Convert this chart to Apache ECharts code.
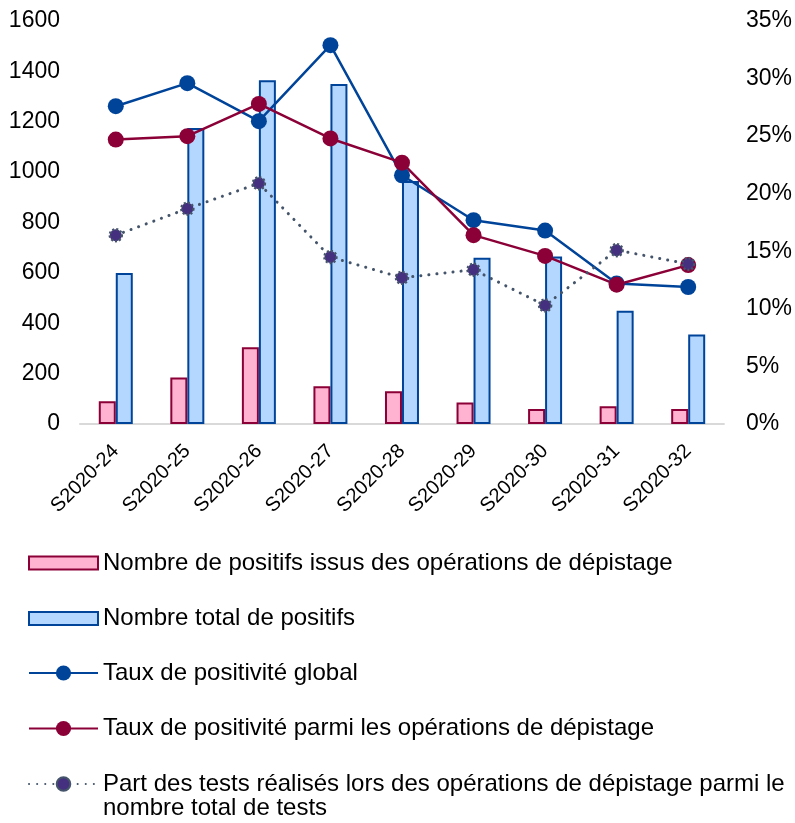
<!DOCTYPE html>
<html>
<head>
<meta charset="utf-8">
<script src="https://cdn.jsdelivr.net/npm/echarts@6/dist/echarts.min.js"></script>
<style>
  html, body { margin: 0; padding: 0; background: #fff; }
  #chart { width: 795px; height: 823px; }
</style>
</head>
<body>
<div id="chart"></div>
<script>
// semaines
const weeks = ["S2020-24", "S2020-25", "S2020-26", "S2020-27", "S2020-28", "S2020-29", "S2020-30", "S2020-31", "S2020-32"];
// nombre de positifs (axe gauche)
const positifsDepistage = [90, 185, 305, 150, 130, 85, 60, 70, 60];
const positifsTotal = [600, 1175, 1365, 1350, 965, 660, 665, 450, 355];
// taux en % (axe droit)
const tauxGlobal = [27.6, 29.6, 26.3, 32.9, 21.6, 17.7, 16.8, 12.2, 11.9];
const tauxDepistage = [24.7, 25.0, 27.8, 24.8, 22.7, 16.4, 14.6, 12.1, 13.8];
const partTests = [16.4, 18.7, 20.9, 14.5, 12.7, 13.4, 10.3, 15.1, 13.9];

const names = [
  "Nombre de positifs issus des opérations de dépistage",
  "Nombre total de positifs",
  "Taux de positivité global",
  "Taux de positivité parmi les opérations de dépistage",
  "Part des tests réalisés lors des opérations de dépistage parmi le\nnombre total de tests"
];

const font = "'Liberation Sans', Arial, sans-serif";
const legendText = { fontSize: 24, color: "#000", lineHeight: 26, fontFamily: font };
const chart = echarts.init(document.getElementById("chart"));

chart.setOption({
  animation: false,
  textStyle: { fontFamily: font },
  grid: { left: 80, right: 70, top: 21, bottom: 399 },
  legend: [
    {
      // barres
      orient: "vertical",
      left: 23,
      top: 545,
      itemWidth: 69,
      itemHeight: 13,
      itemGap: 29.5,
      textStyle: legendText,
      data: [
        { name: names[0], icon: "rect" },
        { name: names[1], icon: "rect" }
      ]
    },
    {
      // courbes
      orient: "vertical",
      left: 23,
      top: 655,
      itemWidth: 69,
      itemHeight: 19,
      itemGap: 29.5,
      textStyle: legendText,
      data: [names[2], names[3]]
    },
    {
      // pointillés, libellé sur deux lignes aligné sur la première
      orient: "vertical",
      left: 23,
      top: 743,
      itemWidth: 69,
      itemHeight: 17,
      textStyle: Object.assign({}, legendText, { lineHeight: 24 }),
      formatter: n => "\n" + n,
      data: [names[4]]
    }
  ],
  xAxis: {
    type: "category",
    data: weeks,
    axisLine: { lineStyle: { color: "#d9d9d9", width: 2 } },
    axisTick: { show: false },
    axisLabel: { rotate: 45, fontSize: 20, color: "#000", margin: 24, interval: 0 }
  },
  yAxis: [
    {
      type: "value",
      min: 0,
      max: 1600,
      interval: 200,
      splitLine: { show: false },
      axisLine: { show: false },
      axisTick: { show: false },
      axisLabel: { fontSize: 23, color: "#000", margin: 20, formatter: v => String(v) }
    },
    {
      type: "value",
      min: 0,
      max: 35,
      interval: 5,
      splitLine: { show: false },
      axisLine: { show: false },
      axisTick: { show: false },
      axisLabel: { fontSize: 23, color: "#000", margin: 22, formatter: "{value}%" }
    }
  ],
  series: [
    {
      name: names[0],
      type: "bar",
      data: positifsDepistage,
      barWidth: 17,
      barGap: "0%",
      itemStyle: { color: "#ffb3d1", borderColor: "#8b0036", borderWidth: 2 }
    },
    {
      name: names[1],
      type: "bar",
      data: positifsTotal,
      barWidth: 17,
      itemStyle: { color: "#b4d7ff", borderColor: "#00449a", borderWidth: 2 }
    },
    {
      name: names[2],
      type: "line",
      yAxisIndex: 1,
      data: tauxGlobal,
      symbol: "circle",
      symbolSize: 16,
      color: "#00449a",
      lineStyle: { width: 2.5, color: "#00449a" },
      itemStyle: { color: "#00449a" }
    },
    {
      name: names[3],
      type: "line",
      yAxisIndex: 1,
      data: tauxDepistage,
      symbol: "circle",
      symbolSize: 16,
      color: "#8b0036",
      lineStyle: { width: 2.5, color: "#8b0036" },
      itemStyle: { color: "#8b0036" }
    },
    {
      name: names[4],
      type: "line",
      yAxisIndex: 1,
      data: partTests,
      symbol: "circle",
      symbolSize: 12,
      color: "#44546a",
      lineStyle: { width: 3, color: "#44546a", type: [0.1, 8], cap: "round" },
      itemStyle: { color: "#45307f", borderColor: "#44546a", borderWidth: 2.5, borderType: [2, 2] }
    }
  ]
});
</script>
</body>
</html>
